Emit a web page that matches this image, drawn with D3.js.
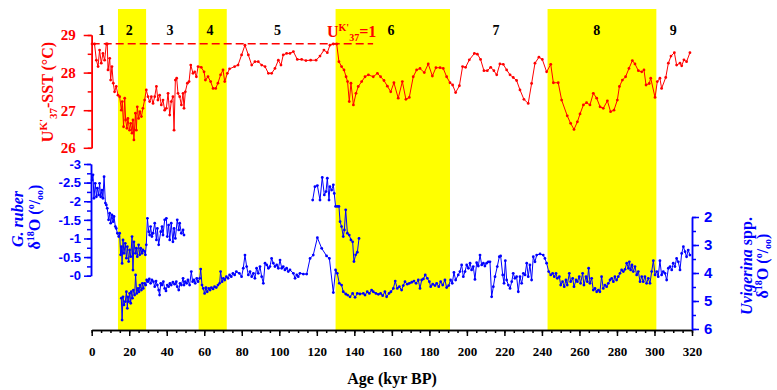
<!DOCTYPE html>
<html><head><meta charset="utf-8">
<script src="https://cdn.jsdelivr.net/npm/d3@7"></script>
<style>body{margin:0;background:#fff}svg{display:block}</style>
</head><body><svg id="c" width="777" height="390"></svg>
<script>
// ---- data ----
const misBands = [[14,29],[57,72],[130,191],[243,301]];
const misLabels = ["1","2","3","4","5","6","7","8","9"];
const misLabelAge = [5.3,20,41.7,63,99,159.5,215.5,269.2,310];
const xTicks = [0,20,40,60,80,100,120,140,160,180,200,220,240,260,280,300,320];
const sstTicks = [26,27,28,29];
const ruberTicks = [-3,-2.5,-2,-1.5,-1,-0.5,0];
const uvigTicks = [2,3,4,5,6];
const uk37Limit = 28.77;   // SST at UK'37 = 1
const uk37LimitAge = [0,150];

const sst = [[0.2,28.76],[1.5,28.76],[2.5,28.33],[3.4,28.16],[4.2,28.6],[5.1,28.25],[6.0,28.51],[6.9,28.33],[7.8,28.76],[8.3,28.76],[8.7,28.07],[9.6,28.38],[10.1,27.8],[10.8,28.16],[11.5,27.72],[12.2,27.49],[13.1,27.63],[14.0,27.4],[14.9,27.36],[15.8,27.0],[16.3,27.23],[17.0,26.56],[17.6,27.32],[18.1,26.74],[18.8,26.52],[19.3,26.78],[20.2,26.47],[20.8,26.65],[21.5,26.39],[22.0,26.74],[22.5,26.21],[23.3,26.92],[23.8,26.47],[24.3,27.09],[25.0,26.78],[25.7,26.96],[26.5,26.83],[27.3,27.05],[28.2,27.27],[29.1,27.54],[30.0,27.36],[30.9,27.23],[31.8,27.36],[32.7,27.18],[33.6,27.36],[34.5,27.63],[35.3,27.27],[36.2,27.4],[37.1,27.14],[38.0,27.27],[38.9,27.0],[39.8,27.05],[40.7,27.45],[41.6,26.87],[42.4,27.23],[43.3,27.36],[43.9,26.47],[44.6,27.8],[45.3,27.85],[46.0,27.45],[46.9,27.36],[47.8,27.14],[48.7,27.45],[49.2,27.05],[49.9,27.49],[51.0,27.72],[51.9,27.76],[52.8,28.2],[54.0,27.98],[54.9,28.02],[55.8,27.89],[56.7,28.16],[58.4,28.14],[59.9,28.02],[60.6,27.8],[62.0,27.89],[63.4,27.76],[64.7,27.58],[66.1,27.58],[67.3,27.72],[68.7,27.94],[70.0,28.07],[70.9,27.76],[72.3,27.98],[73.5,28.1],[76.2,28.16],[78.0,28.2],
[79.9,28.47],[81.7,28.73],[83.5,28.47],[85.3,28.2],[87.0,28.29],[88.8,28.29],[90.6,28.2],[92.4,28.16],[94.2,27.98],[95.9,27.98],[97.7,28.11],[99.5,28.33],[100.9,28.2],[102.1,28.47],[103.9,28.51],[105.7,28.51],[107.5,28.56],[109.6,28.35],[111.9,28.35],[114.2,28.32],[116.7,28.33],[119.6,28.33],[121.7,28.44],[123.8,28.6],[125.6,28.53],[127.0,28.73],[128.8,28.76],[130.6,28.76],[131.8,28.29],[133.2,28.16],[134.5,28.07],[135.6,27.89],[136.4,27.76],[137.3,27.23],[138.2,27.72],[139.5,27.14],[140.9,27.45],[142.1,27.63],[143.9,27.76],[145.7,27.89],[147.5,27.94],
[150.1,27.89],[152.3,27.98],[154.0,27.89],[155.8,27.79],[157.6,27.64],[159.4,27.49],[161.1,27.73],[163.4,27.32],[165.6,27.76],[167.5,27.29],[169.3,27.34],[171.4,27.89],[173.2,28.07],[175.0,28.11],[177.3,28.0],[179.4,28.23],[181.6,27.91],[183.5,28.13],[185.7,28.13],[187.4,28.11],[189.2,27.89],[191.0,27.73],[192.4,27.67],[194.0,27.47],[196.0,27.65],[197.7,28.16],[199.3,28.14],[201.3,28.34],[204.0,28.51],[205.6,28.49],[207.3,28.35],[209.1,28.05],[210.9,28.05],[212.7,28.14],[214.4,28.05],[215.9,27.94],[217.6,28.23],[219.4,28.22],[221.2,28.07],[223.0,27.94],[224.7,27.87],[226.5,27.79],[228.3,27.54],[230.4,27.29],[232.7,27.18],[234.5,27.71],[236.3,28.25],[238.4,28.41],[240.2,28.35],[242.5,28.02],[244.7,28.22],[246.1,27.73],[248.7,27.73],[250.5,27.27],[253.5,26.85],[255.3,26.65],[257.1,26.49],[258.9,26.69],[260.3,26.9],[262.1,27.14],[263.8,27.2],[265.6,27.14],[267.4,27.45],[269.2,27.32],[271.0,27.09],[272.7,27.05],[274.9,27.25],[276.6,26.96],[278.4,27.0],[280.2,27.27],[281.3,27.63],[282.9,27.8],[284.6,27.89],[286.4,28.11],[288.2,28.32],[289.6,28.23],[291.4,28.05],[293.2,28.02],[294.4,28.07],[295.5,27.67],[297.2,27.71],[298.0,27.85],[300.3,27.34],[301.5,27.76],[302.9,27.85],[303.8,27.58],[306.0,27.87],[307.4,28.25],[308.8,28.44],[310.6,28.53],[311.8,28.2],[313.6,28.25],[314.5,28.18],[315.7,28.34],[317.1,28.29],[318.9,28.53]];

const ruberA = [[0.2,-2.57],[0.7,-2.71],[1.2,-2.08],[1.9,-2.48],[2.5,-2.12],[3.0,-2.35],[3.7,-2.17],[4.2,-2.48],[4.8,-2.12],[5.5,-2.30],[6.0,-2.08],[6.6,-2.66],[7.3,-1.95],[7.8,-1.90],[8.3,-1.81],[9.0,-1.50],[9.6,-1.68],[10.1,-1.41],[10.8,-1.63],[11.4,-1.45],[11.9,-1.59],[12.6,-1.32],[13.1,-1.27],[13.7,-1.14],[14.4,-1.05],[14.9,-1.14],[15.4,-0.56],[15.8,-0.78],[16.2,-0.33],[16.7,-0.96],[17.2,-0.60],[17.9,-0.87],[18.5,-0.47],[19.0,-0.78],[19.7,-0.38],[20.2,-0.69],[20.8,-0.51],[21.5,-1.05],[22.0,-0.15],[22.5,-0.91],[23.3,-0.60],[23.8,-0.74],[24.3,-0.51],[25.0,-0.83],[25.6,-0.56],[26.1,-0.74],[26.8,-0.60],[27.3,-0.69],[28.2,-0.65],[28.6,-0.56],[29.1,-0.83],[29.7,-1.54],[30.4,-1.18],[30.9,-1.09],[31.4,-1.32],[32.1,-1.05],[32.7,-1.14],[33.6,-1.41],[34.5,-0.96],[35.0,-1.27],[35.7,-0.83],[36.8,-1.18],[37.5,-1.32],[38.0,-1.09],[38.9,-1.50],[39.8,-1.54],[40.3,-1.05],[41.0,-1.36],[41.6,-0.96],[42.4,-1.41],[43.3,-0.91],[43.9,-1.27],[44.6,-1.00],[45.6,-1.50],[46.4,-1.23],[46.9,-1.41],[47.8,-1.14],[48.7,-1.23],[49.2,-1.09]];
const ruberB = [[117.8,-2.03],[119.0,-2.39],[120.3,-2.42],[121.7,-2.03],[122.9,-2.64],[124.0,-2.17],[124.9,-2.26],[125.6,-2.62],[126.5,-2.03],[127.0,-2.39],[127.9,-2.30],[128.8,-2.44],[129.3,-2.21],[130.0,-1.86],[130.9,-1.86],[131.8,-1.86],[132.4,-1.45],[133.2,-1.32],[134.1,-1.05],[134.7,-1.23],[135.4,-1.77],[136.3,-1.14],[137.3,-1.09],[138.2,-0.96],[139.1,-0.91],[139.8,-0.38],[140.7,-0.56],[141.6,-0.63],[142.5,-1.00]];

const uvig = [[15.8,4.90],[16.2,5.68],[16.7,4.85],[17.2,5.14],[17.9,5.02],[18.5,4.67],[19.0,5.26],[19.3,4.85],[19.7,5.02],[20.2,4.73],[20.8,5.08],[21.1,4.67],[21.7,4.90],[22.2,4.61],[22.9,4.79],[23.4,4.07],[24.0,4.73],[24.7,4.55],[25.2,4.67],[25.7,4.43],[26.5,4.61],[27.0,4.37],[27.5,4.55],[28.2,4.37],[28.8,4.43],[29.3,4.25],[30.0,4.31],[30.7,4.21],[31.4,4.37],[32.1,4.25],[32.9,4.31],[33.6,4.49],[34.3,4.29],[35.0,4.43],[35.7,4.61],[36.2,4.79],[36.8,4.37],[37.5,4.43],[38.2,4.31],[38.9,4.55],[39.6,4.64],[40.3,4.43],[41.0,4.49],[41.7,4.37],[42.4,4.43],[43.3,4.33],[44.2,4.40],[45.1,4.31],[45.6,4.49],[46.4,4.61],[47.1,4.37],[47.8,4.43],[48.7,4.19],[49.2,4.43],[49.9,4.31],[50.6,4.37],[51.3,4.25],[52.2,4.43],[53.1,3.95],[53.8,4.31],[54.5,4.25],[55.2,4.37],[56.0,4.19],[56.7,4.31],[57.6,4.19],[58.1,3.86],[58.8,4.43],[59.5,4.55],[60.2,4.73],[60.9,4.52],[61.6,4.67],[62.4,4.55],[63.1,4.61],[63.8,4.52],[64.7,4.57],[65.5,4.49],[66.4,4.52],[67.3,4.43],[68.2,4.37],[68.7,3.95],[69.5,4.31],[70.2,4.19],[70.9,4.25],[71.8,4.13],[72.7,4.19],[73.5,4.07],[74.4,4.13],[75.3,4.01],[76.2,4.07],[77.1,3.95],
[78.7,4.01],[79.9,4.13],[80.8,3.83],[81.7,3.36],[82.6,3.77],[83.5,4.07],[84.4,3.95],[85.3,4.13],[86.2,4.01],[87.0,4.19],[87.9,3.83],[88.8,4.01],[89.7,3.77],[90.6,4.13],[91.5,4.37],[92.4,3.65],[93.3,3.71],[94.2,3.83],[95.0,3.77],[95.9,3.48],[96.8,3.65],[97.7,3.77],[98.6,3.71],[99.5,3.83],[100.4,3.54],[101.3,3.83],[102.1,3.77],[103.0,3.89],[103.9,3.83],[104.8,3.95],[105.7,3.89],[107.5,4.01],[108.4,4.19],[109.3,4.07],[110.1,4.13],[111.0,4.01],[112.8,4.04],[114.6,4.04],[116.4,3.48],[118.1,3.36],[120.3,2.74],[122.6,3.12],[125.2,3.39],[126.7,3.48],[128.8,4.70],[130.0,3.89],[130.9,4.01],[132.0,4.37],[133.2,4.43],[134.1,4.67],[135.4,4.75],[136.4,4.79],[137.7,4.85],[139.1,4.73],[140.4,4.87],[141.6,4.73],[143.0,4.75],
[144.8,4.73],[145.7,4.79],[146.9,4.67],[148.0,4.73],[149.2,4.61],[150.1,4.67],[151.5,4.73],[152.8,4.76],[154.0,4.73],[155.1,4.81],[156.3,4.67],[157.2,4.85],[158.5,4.73],[159.5,4.67],[160.8,4.55],[161.8,4.29],[162.9,4.55],[164.0,4.49],[165.2,4.61],[166.1,4.45],[167.0,4.31],[168.2,4.40],[169.3,4.37],[170.6,4.33],[171.8,4.29],[172.9,4.37],[174.1,4.25],[175.0,4.55],[175.9,4.25],[176.8,4.21],[177.8,4.07],[178.9,4.19],[180.0,4.31],[180.7,4.49],[181.8,4.40],[183.0,4.45],[183.9,4.37],[185.0,4.49],[186.0,4.31],[187.1,4.43],[188.3,4.25],[189.2,4.52],[190.3,4.45],[191.3,4.25],[192.2,4.37],[193.1,3.98],[194.0,4.25],[195.4,4.07],[196.3,3.95],
[197.2,3.71],[198.1,4.13],[199.0,3.95],[199.9,3.71],[200.8,3.83],[201.7,3.65],[202.5,3.89],[203.4,3.77],[204.3,4.23],[205.2,3.63],[206.1,3.75],[207.0,3.36],[207.9,3.71],[208.8,3.65],[209.6,3.75],[210.5,3.65],[211.4,3.60],[212.3,3.60],[213.2,4.85],[214.1,4.49],[215.0,4.13],[216.2,3.77],[217.3,3.42],[218.0,3.39],[219.1,4.07],[219.8,4.37],[220.5,3.56],[221.2,4.25],[222.1,4.43],[223.0,4.55],[223.9,4.31],[224.7,4.01],[225.6,4.19],[226.5,4.13],[227.4,4.67],[228.3,4.13],[229.2,4.37],[230.1,4.01],[231.0,4.07],[231.9,3.65],[232.7,4.13],[233.6,3.71],[234.5,4.25],[235.4,3.42],[236.3,3.60],[237.2,3.36],[239.0,3.32],[240.7,3.36],[241.6,3.48],[242.5,3.65],[243.6,3.95],[244.7,4.07],[245.7,4.01],[246.6,4.13],[247.5,4.01],[248.2,4.19],[249.3,4.13],[250.0,4.43],[251.0,4.31],[251.9,4.49],[252.8,4.25],[253.5,4.43],[254.6,4.01],[255.3,4.31],[256.4,4.19],[257.1,4.49],[258.2,4.25],[258.9,4.31],[259.9,4.13],[260.6,4.37],[261.7,4.01],[262.4,4.43],[263.5,4.13],[264.2,4.31],[264.9,3.83],[265.6,4.37],[266.5,4.19],[267.4,4.61],[268.3,4.55],[269.2,4.67],[270.1,4.61],[270.9,4.67],[271.8,4.13],[272.7,4.55],[273.6,4.43],[274.5,4.49],[275.4,4.37],[276.3,4.25],[277.2,4.19],[278.1,4.31],[278.9,4.13],[279.8,4.25],[280.7,4.13],[281.6,4.01],[282.5,3.89],[283.4,3.95],[284.3,3.87],[285.2,3.65],[286.1,3.83],[286.6,3.60],[287.3,3.89],[288.0,3.71],[288.7,3.95],[289.6,3.77],[290.5,4.07],[291.4,3.95],[292.3,4.31],[293.2,4.13],[294.0,4.31],[294.9,4.13],[295.8,4.37],[296.7,4.19],[297.6,4.37],[298.5,3.95],[299.4,3.56],[300.3,4.07],[301.2,3.95],[302.0,4.13],[302.9,3.56],[303.8,4.07],[304.7,3.95],[305.6,4.01],[306.5,4.25],[307.4,3.83],[308.3,3.77],[309.2,3.89],[310.0,3.65],[310.9,3.77],[311.8,3.48],[312.7,3.60],[313.6,3.89],[314.5,3.30],[315.4,3.06],[316.3,3.24],[317.1,3.42],[318.0,3.18],[318.9,3.36]];

// ---- chart ----
const RED = "#ff0000", BLUE = "#0000ff";
const SERIF = "'Liberation Serif','Times New Roman',serif";
const SANS = "'Liberation Sans',Arial,sans-serif";
const svg = d3.select("#c");
const x = d3.scaleLinear().domain([0,320]).range([91.7,692]);
const ySst = d3.scaleLinear().domain([26,29]).range([147.8,35]);
const yRub = d3.scaleLinear().domain([-3,0]).range([164,275.7]);
const yUv = d3.scaleLinear().domain([2,6]).range([217,329]);
const xAxisY = 330;

svg.append("rect").attr("width",777).attr("height",390).attr("fill","#fff");

svg.selectAll("rect.band").data(misBands).enter().append("rect")
  .attr("class","band").attr("x",d=>x(d[0])).attr("width",d=>x(d[1])-x(d[0]))
  .attr("y",9).attr("height",xAxisY-9).attr("fill","#ffff00");

svg.append("line").attr("x1",x(uk37LimitAge[0])).attr("x2",x(uk37LimitAge[1]))
  .attr("y1",ySst(uk37Limit)).attr("y2",ySst(uk37Limit))
  .attr("stroke",RED).attr("stroke-width",1.5).attr("stroke-dasharray","8,4");

function series(data, y, color){
  const g = svg.append("g");
  g.append("path").datum(data).attr("fill","none").attr("stroke",color).attr("stroke-width",1)
    .attr("d", d3.line().x(d=>x(d[0])).y(d=>y(d[1])));
  g.selectAll("circle").data(data).enter().append("circle")
    .attr("cx",d=>x(d[0])).attr("cy",d=>y(d[1])).attr("r",1.4).attr("fill",color);
}
series(sst, ySst, RED);
series(ruberA, yRub, BLUE);
series(ruberB, yRub, BLUE);
series(uvig, yUv, BLUE);

function styleAxis(g, color, font, size){
  g.selectAll("path,line").attr("stroke",color).attr("stroke-width",1.5);
  g.selectAll("text").attr("fill",color).attr("font-family",font)
    .attr("font-size",size).attr("font-weight","bold");
}
// x axis
let gx = svg.append("g").attr("transform",`translate(0,${xAxisY})`)
  .call(d3.axisBottom(x).tickValues(d3.range(0,321,5)).tickSize(3).tickSizeOuter(0).tickFormat(""));
styleAxis(gx,"#000",SERIF,13);
gx = svg.append("g").attr("transform",`translate(0,${xAxisY})`)
  .call(d3.axisBottom(x).tickValues(xTicks).tickSize(6).tickSizeOuter(0).tickPadding(11).tickFormat(d3.format("d")));
styleAxis(gx,"#000",SERIF,13);

// SST axis
let gs = svg.append("g").attr("transform",`translate(${x(0)},0)`)
  .call(d3.axisLeft(ySst).tickValues(d3.range(26,29.01,0.5)).tickSize(4).tickSizeOuter(0).tickFormat(""));
styleAxis(gs,RED,SERIF,14);
gs = svg.append("g").attr("transform",`translate(${x(0)},0)`)
  .call(d3.axisLeft(ySst).tickValues(sstTicks).tickSize(8).tickSizeOuter(0).tickPadding(8).tickFormat(d3.format("d")));
styleAxis(gs,RED,SERIF,15);

// ruber axis
let gr = svg.append("g").attr("transform",`translate(${x(0)-0.7},0)`)
  .call(d3.axisLeft(yRub).tickValues(d3.range(-3,0.01,0.25)).tickSize(4).tickSizeOuter(0).tickFormat(""));
styleAxis(gr,BLUE,SANS,13);
gr = svg.append("g").attr("transform",`translate(${x(0)-0.7},0)`)
  .call(d3.axisLeft(yRub).tickValues(ruberTicks).tickSize(7).tickSizeOuter(0).tickPadding(3)
    .tickFormat(v => v===0 ? "-0" : String(v)));
styleAxis(gr,BLUE,SANS,13);

// uvigerina axis
let gu = svg.append("g").attr("transform",`translate(${x(320)},0)`)
  .call(d3.axisRight(yUv).tickValues(d3.range(2,6.01,0.5)).tickSize(4).tickSizeOuter(0).tickFormat(""));
styleAxis(gu,BLUE,SANS,14);
gu = svg.append("g").attr("transform",`translate(${x(320)},0)`)
  .call(d3.axisRight(yUv).tickValues(uvigTicks).tickSize(7).tickSizeOuter(0).tickPadding(5).tickFormat(d3.format("d")));
styleAxis(gu,BLUE,SANS,15);

// MIS labels
svg.selectAll("text.mis").data(misLabels).enter().append("text").attr("class","mis")
  .attr("x",(d,i)=>x(misLabelAge[i])).attr("y",35).attr("text-anchor","middle")
  .attr("font-family",SERIF).attr("font-weight","bold").attr("font-size",14).attr("fill","#000").text(d=>d);

// UK'37=1 label
const uk = svg.append("text").attr("x",327).attr("y",37).attr("fill",RED)
  .attr("font-family",SERIF).attr("font-weight","bold").attr("font-size",16);
uk.append("tspan").text("U");
uk.append("tspan").attr("dy",-6).attr("font-size",10).text("K'");
uk.append("tspan").attr("dy",10).attr("font-size",10).text("37");
uk.append("tspan").attr("dy",-4).text("=1");

// axis titles
function rotText(cx, cy, color){
  return svg.append("text").attr("transform",`translate(${cx},${cy}) rotate(-90)`)
    .attr("text-anchor","middle").attr("fill",color).attr("font-family",SERIF)
    .attr("font-weight","bold").attr("font-size",16);
}
const tS = rotText(53,92,RED);
tS.append("tspan").text("U");
tS.append("tspan").attr("dy",-6).attr("font-size",11).text("K'");
tS.append("tspan").attr("dy",10).attr("font-size",11).text("37");
tS.append("tspan").attr("dy",-4).text("-SST (°C)");

function deltaTitle(t){
  t.append("tspan").text("δ");
  t.append("tspan").attr("dy",-6).attr("font-size",10).text("18");
  t.append("tspan").attr("dy",6).text("O (");
  t.append("tspan").attr("dy",-6).attr("font-size",10).text("o");
  t.append("tspan").attr("dy",6).text("/");
  t.append("tspan").attr("dy",3).attr("font-size",10).text("oo");
  t.append("tspan").attr("dy",-3).text(")");
}
const tR1 = rotText(23,219,BLUE); tR1.append("tspan").attr("font-style","italic").text("G. ruber");
const tR2 = rotText(40,217,BLUE); deltaTitle(tR2);
const tU1 = rotText(752,266,BLUE);
tU1.append("tspan").attr("font-style","italic").text("Uvigerina");
tU1.append("tspan").text(" spp.");
const tU2 = rotText(768,266,BLUE); deltaTitle(tU2);

svg.append("text").attr("x",392).attr("y",384).attr("text-anchor","middle")
  .attr("font-family",SERIF).attr("font-weight","bold").attr("font-size",16).text("Age (kyr BP)");
</script></body></html>
